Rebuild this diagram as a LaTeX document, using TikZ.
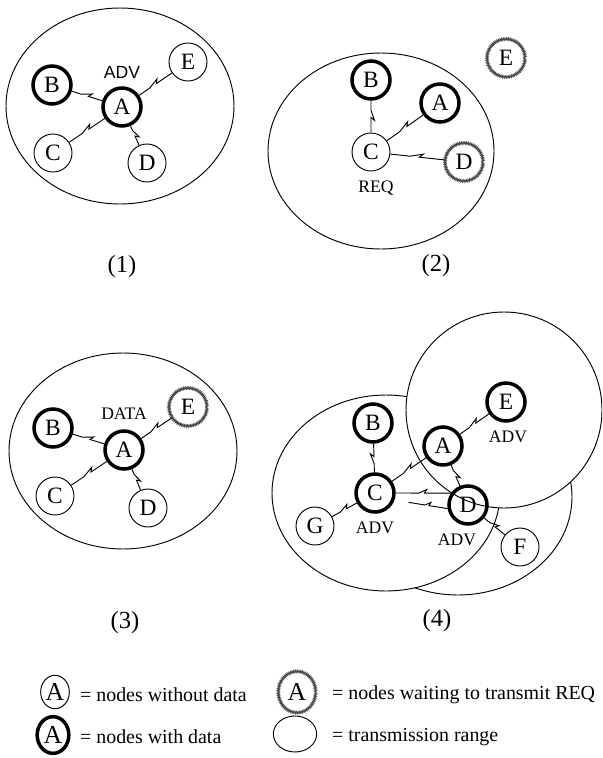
\documentclass[tikz,border=0pt]{standalone}
\usepackage{fontspec}
\setmainfont{Liberation Serif}
\newfontfamily\advfont{Liberation Sans}
\usetikzlibrary{calc,shapes.geometric,decorations.pathmorphing}

\begin{document}
\begin{tikzpicture}[x=0.03cm, y=-0.03cm,
    station/.style={circle, draw, line width=0.8pt, minimum size=1.14cm, inner sep=0pt, font=\fontsize{20}{20}\selectfont},
    hasdata/.style={station, line width=3pt},
    waiting/.style={station, draw=black!70, line width=0.9pt, decorate, decoration={zigzag, segment length=1.4pt, amplitude=0.8pt}},
    coverage/.style={draw, line width=0.8pt, fill=white},
    msg/.style={font=\fontsize{15}{15}\selectfont},
    caption/.style={font=\fontsize{21}{21}\selectfont},
    keynode/.style={ellipse, font=\fontsize{22}{22}\selectfont},
    keytext/.style={anchor=west, font=\fontsize{17}{17}\selectfont},
    bolt/.style={line width=0.8pt, to path={-- ($(\tikztostart)!.42!(\tikztotarget)$) -- ($(\tikztostart)!.56!(\tikztotarget)!3pt!90:(\tikztotarget)$) -- ($(\tikztostart)!.52!(\tikztotarget)$) -- (\tikztotarget)}}]

  \useasboundingbox (0,0) rectangle (602,758);
  \begin{scope}
  \clip (0,0) rectangle (602,758);

  % (1)
  \draw[coverage] (120,106) ellipse [x radius=114, y radius=98];
  \node[hasdata] (B1) at (52,85) {B};
  \node[hasdata] (A1) at (122,107) {A};
  \node[station] (E1) at (188,62) {E};
  \node[station] (C1) at (53,153) {C};
  \node[station] (D1) at (147,163) {D};
  \node[font=\advfont\fontsize{15}{15}\selectfont] (adv1) at (122,72) {ADV};
  \draw[bolt] (B1) to (A1);
  \draw[bolt] (C1) to (A1);
  \draw[bolt] (A1) to (E1);
  \draw[bolt] (A1) to (D1);
  \node[caption] (cap1) at (122,267) {(1)};

  % (2)
  \draw[coverage] (381,151) ellipse [x radius=113, y radius=98];
  \node[hasdata] (B2) at (371,80) {B};
  \node[hasdata] (A2) at (440,103) {A};
  \node[station] (C2) at (371,152) {C};
  \node[waiting] (D2) at (464,162) {D};
  \node[waiting] (E2) at (506,58) {E};
  \node[msg] (req2) at (376,188) {REQ};
  \draw[bolt] (B2) to (C2);
  \draw[bolt] (C2) to (A2);
  \draw[bolt] (C2) to (D2);
  \node[caption] (cap2) at (436,266) {(2)};

  % (3)
  \draw[coverage] (123,451) ellipse [x radius=114, y radius=98];
  \node[hasdata] (B3) at (53,428) {B};
  \node[hasdata] (A3) at (124,450) {A};
  \node[waiting] (E3) at (188,407) {E};
  \node[station] (C3) at (55,496) {C};
  \node[station] (D3) at (148,508) {D};
  \node[msg] (data3) at (124,414) {DATA};
  \draw[bolt] (B3) to (A3);
  \draw[bolt] (C3) to (A3);
  \draw[bolt] (A3) to (E3);
  \draw[bolt] (A3) to (D3);
  \node[caption] (cap3) at (125,623) {(3)};

  % (4)
  \draw[coverage] (458,497) ellipse [x radius=114, y radius=98];
  \draw[coverage] (386,493) ellipse [x radius=114, y radius=98];
  \draw[coverage] (504,410) circle [radius=98];
  \node[hasdata] (B4) at (373,423) {B};
  \node[hasdata] (A4) at (443,446) {A};
  \node[hasdata] (E4) at (506,402) {E};
  \node[hasdata] (C4) at (375,493) {C};
  \node[hasdata] (D4) at (468,505) {D};
  \node[station] (G4) at (315,526) {G};
  \node[station] (F4) at (520,547) {F};
  \node[msg] (advE4) at (508,437) {ADV};
  \node[msg] (advC4) at (375,528) {ADV};
  \node[msg] (advD4) at (457,540) {ADV};
  \draw[bolt] (C4) to (B4);
  \draw[bolt] (C4) to (A4);
  \draw[bolt] (A4) to (E4);
  \draw[bolt] (A4) to (D4);
  \draw[bolt] (C4.east) to (D4.145);
  \draw[bolt] ([xshift=11pt,yshift=-8pt]C4.east) to (D4.190);
  \draw[bolt] (G4) to (C4);
  \draw[bolt] (D4) to (F4);
  \node[caption] (cap4) at (437,621) {(4)};
  \end{scope}

  % legend
  \node[station, keynode, minimum width=0.86cm, minimum height=1.0cm] (key1) at (55,692) {A};
  \node[keytext] at (76,695) {= nodes without data};
  \node[hasdata, keynode, minimum width=0.95cm, minimum height=1.1cm] (key2) at (53,735) {A};
  \node[keytext] at (76,737) {= nodes with data};
  \node[waiting, keynode, minimum width=1.12cm, minimum height=1.24cm] (key3) at (297,692) {A};
  \node[keytext] at (328,695) {= nodes waiting to transmit REQ};
  \node[station, keynode, minimum width=1.3cm, minimum height=1.08cm] (key4) at (295,734) {};
  \node[keytext] at (328,737) {= transmission range};
\end{tikzpicture}
\end{document}
